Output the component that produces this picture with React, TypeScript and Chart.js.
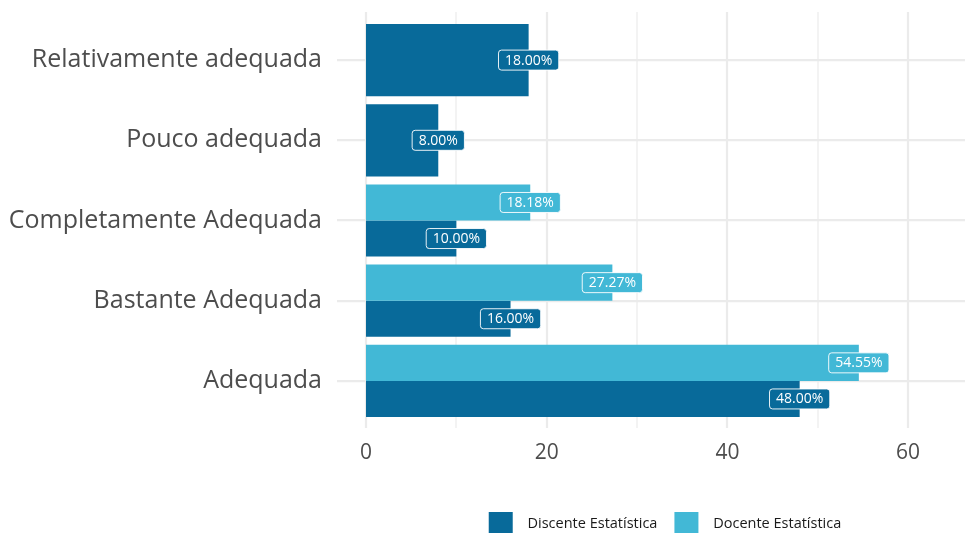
import React, { useEffect, useRef } from "react";
import { Chart, registerables } from "chart.js";

Chart.register(...registerables);

const categories = [
  "Relativamente adequada",
  "Pouco adequada",
  "Completamente Adequada",
  "Bastante Adequada",
  "Adequada",
];
const seriesNames = ["Docente Estatística", "Discente Estatística"];
const docente: (number | null)[] = [null, null, 18.18, 27.27, 54.55];
const discente: (number | null)[] = [18, 8, 10, 16, 48];
const majorTicks = [0, 20, 40, 60];
const minorTicks = [10, 30, 50];

const DARK = "#086a9a";
const LIGHT = "#42b8d6";
const GRID = "#ebebeb";
const TEXT = "#4d4d4d";
const FONT = "'Open Sans', sans-serif";

const vGridPlugin = {
  id: "vgrid",
  beforeDatasetsDraw(chart: any) {
    const { ctx } = chart;
    const x = chart.scales.x;
    const top = 12;
    const bottom = 428;
    ctx.save();
    ctx.strokeStyle = GRID;
    const draw = (v: number, w: number) => {
      const px = Math.round(x.getPixelForValue(v));
      ctx.lineWidth = w;
      ctx.beginPath();
      ctx.moveTo(px, top);
      ctx.lineTo(px, bottom);
      ctx.stroke();
    };
    minorTicks.forEach((v) => draw(v, 1.2));
    majorTicks.forEach((v) => draw(v, 2.2));
    ctx.restore();
  },
};

const labelPlugin = {
  id: "barlabels",
  afterDatasetsDraw(chart: any) {
    const { ctx } = chart;
    ctx.save();
    ctx.font = `14px ${FONT}`;
    ctx.textAlign = "center";
    ctx.textBaseline = "middle";
    chart.data.datasets.forEach((ds: any, di: number) => {
      const meta = chart.getDatasetMeta(di);
      meta.data.forEach((el: any, i: number) => {
        const v = ds.data[i];
        if (v === null || v === undefined) return;
        const text = v.toFixed(2) + "%";
        const tw = ctx.measureText(text).width;
        const w = tw + 13;
        const h = 20;
        const cx = el.x;
        const cy = el.y;
        ctx.beginPath();
        ctx.roundRect(cx - w / 2, cy - h / 2, w, h, 3);
        ctx.fillStyle = ds.backgroundColor;
        ctx.fill();
        ctx.lineWidth = 1;
        ctx.strokeStyle = "rgba(255,255,255,0.9)";
        ctx.stroke();
        ctx.fillStyle = "#ffffff";
        ctx.fillText(text, cx, cy + 0.5);
      });
    });
    ctx.restore();
  },
};

export default function App() {
  const ref = useRef<HTMLCanvasElement>(null);
  useEffect(() => {
    if (!ref.current) return;
    Chart.defaults.font.family = FONT;
    const chart = new Chart(ref.current, {
      type: "bar",
      data: {
        labels: categories,
        datasets: [
          { label: seriesNames[0], data: docente, backgroundColor: LIGHT, skipNull: true } as any,
          { label: seriesNames[1], data: discente, backgroundColor: DARK, skipNull: true } as any,
        ],
      },
      options: {
        indexAxis: "y",
        responsive: false,
        animation: false,
        devicePixelRatio: 1,
        layout: { padding: { top: 20, right: 0, left: 0, bottom: 0 } },
        datasets: { bar: { categoryPercentage: 0.9, barPercentage: 1.0 } },
        scales: {
          x: {
            type: "linear",
            min: -3.21,
            max: 69.4,
            afterBuildTicks: (scale: any) => {
              scale.ticks = majorTicks.map((v) => ({ value: v }));
            },
            afterFit: (scale: any) => {
              scale.height = 74;
              scale.paddingLeft = 0;
              scale.paddingRight = 0;
            },
            grid: { display: false, drawTicks: false },
            border: { display: false },
            ticks: {
              color: TEXT,
              font: { size: 21, family: FONT },
              padding: 19,
              maxRotation: 0,
              autoSkip: false,
            },
          },
          y: {
            type: "category",
            offset: true,
            afterFit: (scale: any) => {
              scale.width = 337;
              scale.paddingTop = 0;
              scale.paddingBottom = 0;
            },
            grid: { display: true, offset: false, color: GRID, lineWidth: 2.2, drawTicks: false },
            border: { display: false },
            ticks: {
              color: TEXT,
              font: { size: 25, family: FONT },
              padding: 15,
              autoSkip: false,
            },
          },
        },
        plugins: {
          legend: {
            position: "bottom",
            fullSize: false,
            labels: {
              boxWidth: 24,
              boxHeight: 24,
              padding: 17,
              color: "#1a1a1a",
              font: { size: 14.5, family: FONT },
              sort: (a: any, b: any) => b.datasetIndex - a.datasetIndex,
              generateLabels: (c: any) =>
                c.data.datasets.map((ds: any, i: number) => ({
                  text: "  " + ds.label,
                  fillStyle: ds.backgroundColor,
                  strokeStyle: ds.backgroundColor,
                  lineWidth: 0,
                  hidden: false,
                  datasetIndex: i,
                  fontColor: "#1a1a1a",
                })),
            },
          },
          tooltip: { enabled: false },
        },
      },
      plugins: [vGridPlugin, labelPlugin],
    });
    return () => chart.destroy();
  }, []);
  return (
    <div
      style={{
        position: "fixed",
        left: 0,
        top: 0,
        width: 965,
        height: 533,
        overflow: "hidden",
        background: "#ffffff",
      }}
    >
      <canvas ref={ref} width={993} height={546} style={{ display: "block" }} />
    </div>
  );
}
